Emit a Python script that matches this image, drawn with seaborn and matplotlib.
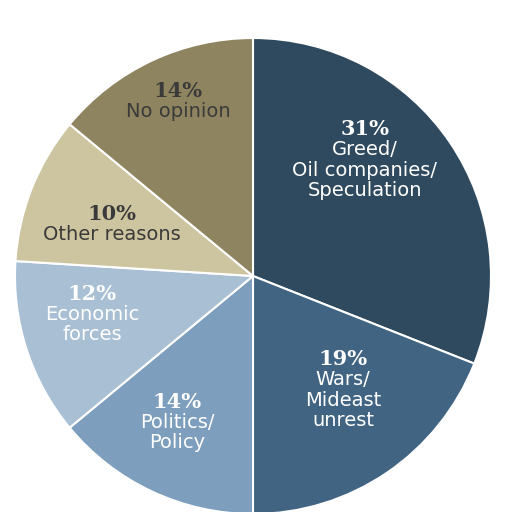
import matplotlib
matplotlib.use("Agg")
import matplotlib.pyplot as plt
import seaborn as sns

sns.set_theme(style="white")
plt.rcParams['font.family'] = ['DejaVu Sans']

categories = ["Greed/\nOil companies/\nSpeculation", "Wars/\nMideast\nunrest", "Politics/\nPolicy",
              "Economic\nforces", "Other reasons", "No opinion"]
values = [31, 19, 14, 12, 10, 14]
colors = ["#2f4a5f", "#416483", "#7e9ebd", "#a9bfd4", "#cdc5a0", "#8e8560"]
text_colors = ["white", "white", "white", "white", "#3a3a3a", "#3a3a3a"]
R = 238
label_px = [(112, 136), (90, -94), (-76, -137), (-161, -29), (-141, 51), (-75, 174)]

fig = plt.figure(figsize=(5.12, 5.12), dpi=100)
ax = fig.add_axes([0, 0, 1, 1])
wedges, _ = ax.pie(values, colors=colors, startangle=90, counterclock=False,
                   radius=1, wedgeprops=dict(edgecolor="white", linewidth=1.5))
for cat, v, tc, (px, py) in zip(categories, values, text_colors, label_px):
    x, y = px / R, py / R
    ax.text(x, y + 0.005, f"{v}%", ha="center", va="bottom", color=tc, fontsize=15,
            fontweight="bold", family="DejaVu Serif")
    ax.text(x, y, cat, ha="center", va="top", color=tc, fontsize=14, linespacing=1.1)
ax.set_xlim(-253 / R, (512 - 253) / R)
ax.set_ylim(-236 / R, 276 / R)
ax.set_aspect("equal")
ax.axis("off")
fig.savefig("out.png", dpi=100)
